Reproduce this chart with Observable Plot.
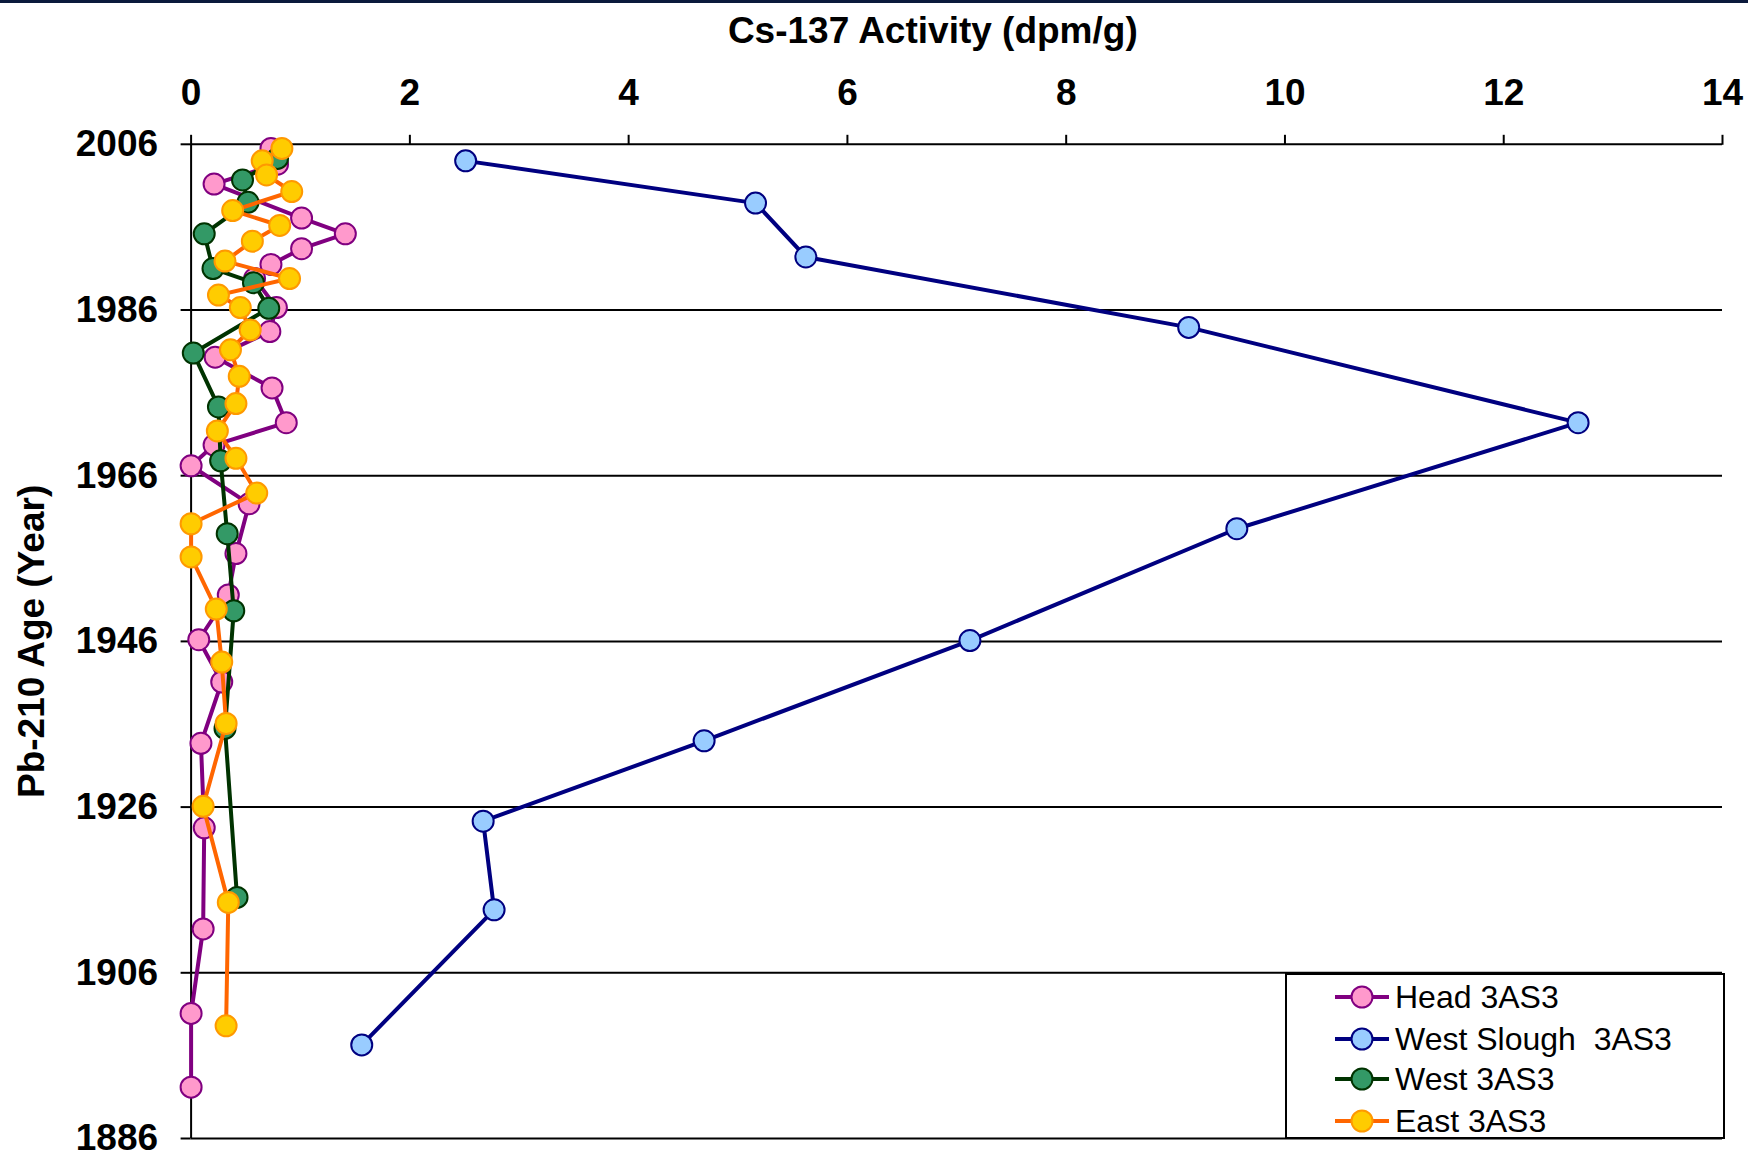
<!DOCTYPE html>
<html>
<head>
<meta charset="utf-8">
<script src="https://cdn.jsdelivr.net/npm/d3@7"></script>
<script src="https://cdn.jsdelivr.net/npm/@observablehq/plot@0.6"></script>
<style>
  html, body { margin: 0; padding: 0; background: white; }
  #wrap { position: relative; width: 1748px; height: 1160px; overflow: hidden; background: white; }
  #topbar { position: absolute; left: 0; top: 0; width: 1748px; height: 2.5px; background: #0b1a3c; }
  #legend { position: absolute; left: 1285px; top: 973px; width: 440px; height: 166px; border: 2px solid #000; background: #fff; box-sizing: border-box; font-family: 'Liberation Sans', Arial, sans-serif; font-size: 32px; }
  .row { position: absolute; left: 48px; height: 40px; display: flex; align-items: center; white-space: pre; }
  .row svg { margin-right: 6px; }
</style>
</head>
<body>
<div id="wrap"><div id="topbar"></div><div id="chart"></div><div id="legend"></div></div>
<script>
// ---- Data ----
const xTicks = [0, 2, 4, 6, 8, 10, 12, 14];
const yTicks = [1886, 1906, 1926, 1946, 1966, 1986, 2006];

const seriesNames = ["Head 3AS3", "West Slough  3AS3", "West 3AS3", "East 3AS3"];

const headYears  = [2005.5, 2003.6, 2001.2, 1997.1, 1995.2, 1993.4, 1991.5, 1989.8, 1986.3, 1983.4, 1980.3, 1976.6, 1972.4, 1969.7, 1967.2, 1962.6, 1956.6, 1951.6, 1946.2, 1941.1, 1933.7, 1923.5, 1911.3, 1901.1, 1892.2];
const headValues = [0.73, 0.79, 0.21, 1.01, 1.41, 1.01, 0.73, 0.58, 0.78, 0.72, 0.22, 0.74, 0.87, 0.21, 0.00, 0.53, 0.41, 0.34, 0.07, 0.28, 0.09, 0.12, 0.11, 0.00, 0.00];

const wsYears  = [2004.0, 1998.9, 1992.4, 1983.9, 1972.4, 1959.6, 1946.1, 1934.0, 1924.3, 1913.6, 1897.3];
const wsValues = [2.51, 5.16, 5.62, 9.12, 12.68, 9.56, 7.12, 4.69, 2.67, 2.77, 1.56];

const westYears  = [2004.3, 2001.7, 1999.0, 1995.2, 1991.0, 1989.3, 1986.2, 1980.8, 1974.3, 1967.8, 1959.0, 1949.7, 1935.5, 1915.1];
const westValues = [0.79, 0.47, 0.52, 0.12, 0.20, 0.57, 0.71, 0.02, 0.25, 0.27, 0.33, 0.39, 0.31, 0.42];

const eastYears  = [2005.5, 2004.0, 2002.3, 2000.3, 1998.0, 1996.2, 1994.3, 1991.9, 1989.8, 1987.8, 1986.3, 1983.6, 1981.2, 1978.0, 1974.7, 1971.4, 1968.1, 1963.9, 1960.2, 1956.2, 1949.9, 1943.5, 1936.1, 1926.1, 1914.5, 1899.6];
const eastValues = [0.83, 0.65, 0.69, 0.92, 0.38, 0.81, 0.56, 0.31, 0.90, 0.25, 0.45, 0.54, 0.36, 0.44, 0.41, 0.24, 0.41, 0.60, 0.00, 0.00, 0.23, 0.28, 0.32, 0.11, 0.34, 0.32];

// ---- Styles ----
const styles = [
  {line: "#800080", fill: "#FF99CC", stroke: "#800080"},
  {line: "#000080", fill: "#99CCFF", stroke: "#000080"},
  {line: "#003300", fill: "#339966", stroke: "#003300"},
  {line: "#FF6600", fill: "#FFCC00", stroke: "#FF9900"}
];

const toRows = (ys, vs) => ys.map((y, i) => ({year: y, v: vs[i]}));
const datasets = [
  toRows(headYears, headValues),
  toRows(wsYears, wsValues),
  toRows(westYears, westValues),
  toRows(eastYears, eastValues)
];

const seriesMarks = datasets.flatMap((data, i) => [
  Plot.line(data, {x: "v", y: "year", stroke: styles[i].line, strokeWidth: 4}),
  Plot.dot(data, {x: "v", y: "year", r: 10.5, fill: styles[i].fill, stroke: styles[i].stroke, strokeWidth: 2})
]);

const FONT = "'Liberation Sans', Arial, Helvetica, sans-serif";

const chart = Plot.plot({
  width: 1748,
  height: 1160,
  marginLeft: 190.6,
  marginRight: 26,
  marginTop: 143.8,
  marginBottom: 22,
  style: {fontFamily: FONT, background: "white", color: "black", overflow: "visible"},
  x: {domain: [0, 14]},
  y: {domain: [1886, 2006]},
  marks: [
    Plot.ruleY(yTicks, {stroke: "black", strokeWidth: 2}),
    Plot.ruleX([0], {stroke: "black", strokeWidth: 2}),
    Plot.axisX(xTicks, {anchor: "top", label: null, tickSize: 10, tickPadding: 29, fontSize: 37, fontWeight: "bold", strokeWidth: 2, tickFormat: d => String(d)}),
    Plot.axisY(yTicks, {anchor: "left", label: null, tickSize: 10, tickPadding: 23, fontSize: 37, fontWeight: "bold", strokeWidth: 2, tickFormat: d => String(d)}),
    ...seriesMarks,
    Plot.text(["Cs-137 Activity (dpm/g)"], {frameAnchor: "top", dx: -24, dy: -113, fontSize: 37, fontWeight: "bold", lineAnchor: "middle", textAnchor: "middle"}),
    Plot.text(["Pb-210 Age (Year)"], {frameAnchor: "left", dx: -159, rotate: -90, fontSize: 37, fontWeight: "bold", lineAnchor: "middle", textAnchor: "middle"})
  ]
});
document.getElementById("chart").appendChild(chart);

// ---- Legend ----
const legend = document.getElementById("legend");
const rowTops = [2, 44, 84, 126];
seriesNames.forEach((name, i) => {
  const row = document.createElement("div");
  row.className = "row";
  row.style.top = rowTops[i] + "px";
  row.innerHTML = `<svg width="54" height="26"><line x1="0" y1="13" x2="54" y2="13" stroke="${styles[i].line}" stroke-width="4"/><circle cx="27" cy="13" r="10.5" fill="${styles[i].fill}" stroke="${styles[i].stroke}" stroke-width="2"/></svg><span>${name}</span>`;
  legend.appendChild(row);
});
</script>
</body>
</html>
